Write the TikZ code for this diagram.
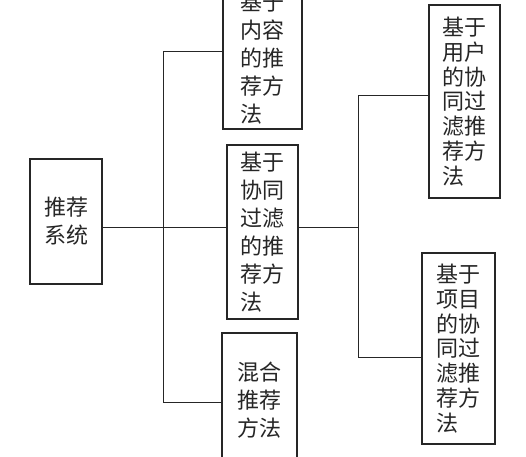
\documentclass[tikz,border=0pt]{standalone}
\usepackage{fontspec}
\newfontfamily\cjk{Noto Sans CJK SC}
\begin{document}
\begin{tikzpicture}[x=1pt,y=-1pt,
  boxnode/.style={draw=black!85,line width=1.1pt,inner sep=0pt,align=left,
    font=\cjk\fontsize{22}{28}\selectfont,text=black!85},
  tightbox/.style={boxnode,font=\cjk\fontsize{22}{24.8}\selectfont},
  link/.style={draw=black!85,line width=0.9pt}]
\useasboundingbox (0,0) rectangle (526,456);
\clip (0,0) rectangle (526,456);
\fill[white] (0,0) rectangle (526,456);
\node[boxnode,minimum width=72pt,minimum height=125pt] (A) at (66,221.5) {推荐\\系统};
\node[boxnode,minimum width=79pt,minimum height=141pt] (B) at (262.5,58.5) {基于\\内容\\的推\\荐方\\法};
\node[boxnode,minimum width=71pt,minimum height=174pt] (C) at (262.5,232) {基于\\协同\\过滤\\的推\\荐方\\法};
\node[boxnode,minimum width=75pt,minimum height=134pt] (D) at (259.5,400) {混合\\推荐\\方法};
\node[tightbox,minimum width=71pt,minimum height=193pt] (E) at (464.5,101.5) {基于\\用户\\的协\\同过\\滤推\\荐方\\法};
\node[tightbox,minimum width=73pt,minimum height=191pt] (F) at (458.5,348.5) {基于\\项目\\的协\\同过\\滤推\\荐方\\法};
\coordinate (m) at (163,227);
\coordinate (j1) at (163,51);
\coordinate (j2) at (163,402);
\coordinate (k) at (358,227);
\coordinate (k1) at (358,95);
\coordinate (k2) at (358,357);
\draw[link] (A.east |- m) -- (C.west |- m);
\draw[link] (B.west |- j1) -- (j1) -- (j2) -- (D.west |- j2);
\draw[link] (C.east |- k) -- (k);
\draw[link] (E.west |- k1) -- (k1) -- (k2) -- (F.west |- k2);
\end{tikzpicture}
\end{document}
